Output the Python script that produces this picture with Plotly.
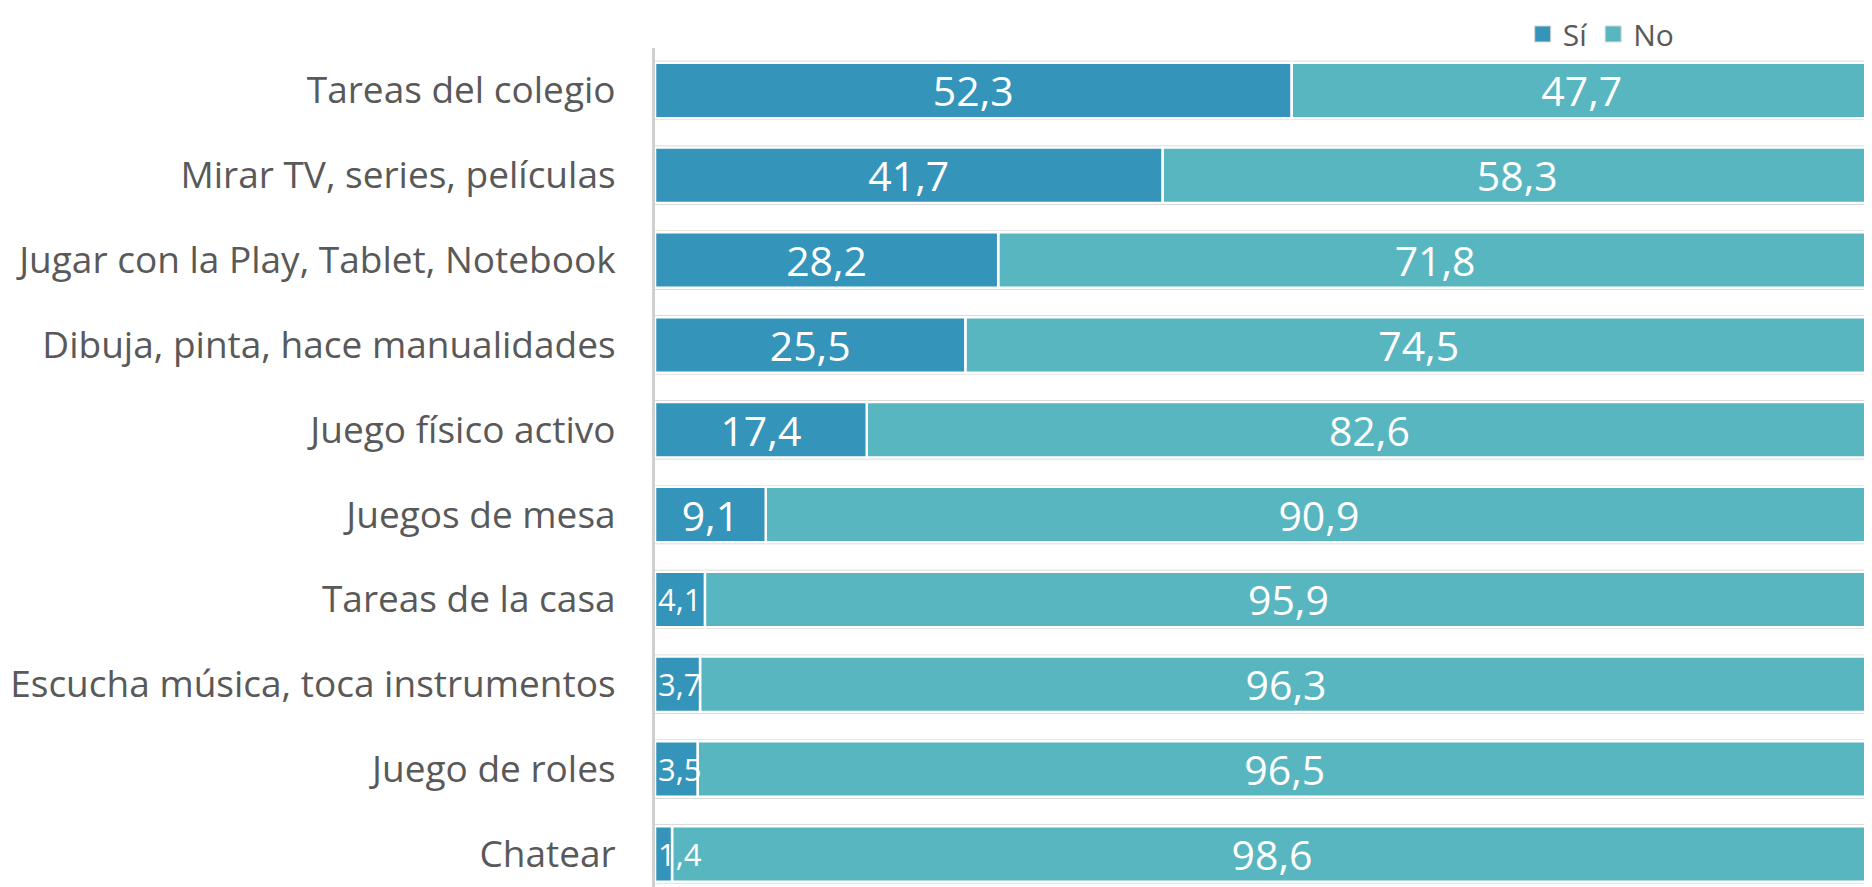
import plotly.graph_objects as go

categories = ["Tareas del colegio", "Mirar TV, series, películas", "Jugar con la Play, Tablet, Notebook",
              "Dibuja, pinta, hace manualidades", "Juego físico activo", "Juegos de mesa",
              "Tareas de la casa", "Escucha música, toca instrumentos", "Juego de roles", "Chatear"]
si_values = [52.3, 41.7, 28.2, 25.5, 17.4, 9.1, 4.1, 3.7, 3.5, 1.4]
no_values = [47.7, 58.3, 71.8, 74.5, 82.6, 90.9, 95.9, 96.3, 96.5, 98.6]

SI_COLOR = "#3494BA"
NO_COLOR = "#58B6C0"

def fmt(v):
    return f"{v:.1f}".replace(".", ",")

totals = [s + n for s, n in zip(si_values, no_values)]
BAR_W = 0.655

fig = go.Figure()
# light gray frame lines behind each bar
fig.add_trace(go.Bar(
    y=categories, x=totals, orientation="h", width=0.70,
    marker=dict(color="#cfcfcf", line=dict(width=0)),
    showlegend=False, hoverinfo="skip",
))
fig.add_trace(go.Bar(
    y=categories, x=no_values, base=si_values, name="No", orientation="h", width=BAR_W,
    marker=dict(color=NO_COLOR, line=dict(color="white", width=2.5)),
    text=[fmt(v) for v in no_values], textposition="inside", insidetextanchor="middle",
    textangle=0, textfont=dict(color="white", size=41, family="Open Sans"),
    constraintext="none", showlegend=False,
))
# "Sí" segments: wide ones with centred labels, narrow ones with left-anchored labels
wide = [i for i, v in enumerate(si_values) if v >= 5]
narrow = [i for i, v in enumerate(si_values) if v < 5]
for idx, size, anchor in [(wide, 41, "middle"), (narrow, 31, "start")]:
    fig.add_trace(go.Bar(
        y=[categories[i] for i in idx], x=[si_values[i] for i in idx], base=[0] * len(idx),
        name="Sí", orientation="h", width=BAR_W,
        marker=dict(color=SI_COLOR, line=dict(color="white", width=2.5)),
        text=[fmt(si_values[i]) for i in idx], textposition="inside", insidetextanchor=anchor,
        textangle=0, textfont=dict(color="white", size=size, family="Open Sans"),
        constraintext="none", showlegend=False, cliponaxis=False,
    ))
# legend entries
for nm, col in [("Sí", SI_COLOR), ("No", NO_COLOR)]:
    fig.add_trace(go.Scatter(
        x=[None], y=[None], mode="markers", name=nm,
        marker=dict(symbol="square", size=22, color=col, line=dict(color="#d8d8d8", width=1)),
    ))

fig.update_layout(
    barmode="overlay",
    width=1864, height=879,
    margin=dict(l=647, r=0, t=40, b=0, autoexpand=False),
    plot_bgcolor="white", paper_bgcolor="white",
    font=dict(family="Open Sans", color="#595959"),
    showlegend=True,
    legend=dict(orientation="h", x=0.713, xanchor="left", y=1.0477, yanchor="top",
                font=dict(size=30, color="#595959"), traceorder="normal",
                itemwidth=30, tracegroupgap=0, bgcolor="rgba(0,0,0,0)", borderwidth=0),
    xaxis=dict(range=[0, 100], visible=False, fixedrange=True),
    yaxis=dict(categoryorder="array", categoryarray=categories, range=[9.39, -0.5],
               showline=True, linecolor="#d0d0d0", linewidth=3,
               ticks="", tickfont=dict(size=37, color="#595959"),
               ticklabelstandoff=29, showgrid=False),
)

fig.write_html("out.html")
